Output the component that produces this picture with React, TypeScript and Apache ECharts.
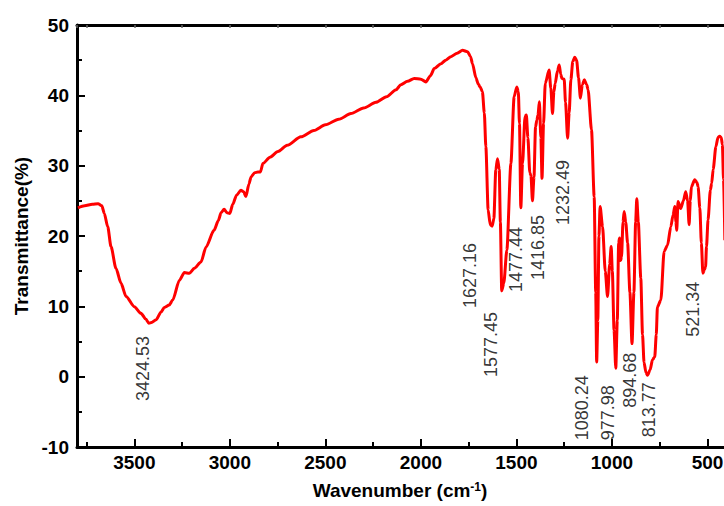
import React, { useEffect, useRef } from "react";
import * as echarts from "echarts";

// FTIR spectrum: wavenumber (cm-1) vs transmittance (%)
const wavenumbers = [
  3795, 3760, 3720, 3690, 3670, 3657, 3639, 3622, 3596, 3570, 3543, 3500, 3465, 3440, 3424, 3410, 3386, 3360,
  3343, 3317, 3299, 3264, 3238, 3212, 3186, 3151, 3125, 3083, 3060, 3046, 3030, 3015, 3000, 2985, 2965, 2942,
  2928, 2916, 2900, 2889, 2870, 2853, 2840, 2827, 2790, 2748, 2700, 2628, 2560, 2500, 2430, 2366, 2300, 2235,
  2180, 2130, 2105, 2070, 2035, 2000, 1974, 1950, 1930, 1895, 1870, 1843, 1810, 1782, 1756, 1740, 1730, 1712,
  1700, 1690, 1678, 1668, 1660, 1648, 1637, 1627, 1618, 1608, 1599, 1590, 1584, 1577, 1566, 1550, 1529, 1512,
  1498, 1490, 1484, 1477, 1468, 1455, 1448, 1440, 1430, 1424, 1416, 1408, 1400, 1393, 1387, 1380, 1372, 1366,
  1358, 1349, 1329, 1320, 1311, 1304, 1297, 1285, 1276, 1268, 1262, 1250, 1243, 1232, 1224, 1215, 1205, 1195,
  1185, 1175, 1165, 1155, 1145, 1132, 1125, 1107, 1093, 1085, 1080, 1074, 1068, 1062, 1049, 1035, 1023, 1012,
  1004, 998, 989, 980, 972, 965, 960, 955, 950, 942, 936, 928, 918, 906, 895, 885, 876, 870, 862, 849, 840, 832,
  822, 814, 800, 788, 776, 768, 762, 744, 727, 709, 692, 680, 671, 665, 661, 654, 640, 626, 614, 604, 596, 590,
  584, 567, 555, 549, 540, 532, 524, 516, 510, 505, 497, 485, 478, 470, 456, 445, 436, 428, 422, 416, 409,
];
const transmittance = [
  24.0, 24.3, 24.5, 24.6, 24.3, 23.2, 21.3, 18.5, 15.4, 13.3, 11.4, 9.95, 9.0, 8.2, 7.6, 7.7, 8.1, 9.2,
  9.85, 10.2, 10.9, 13.7, 14.8, 14.7, 15.4, 16.3, 18.4, 20.8, 22.2, 23.3, 23.8, 23.3, 23.2, 24.5, 25.8, 26.5,
  26.3, 25.6, 27.4, 28.4, 29.0, 29.1, 29.1, 30.3, 31.2, 32.0, 32.9, 34.1, 35.0, 35.8, 36.6, 37.4, 38.2, 39.0,
  39.8, 40.8, 41.5, 42.0, 42.4, 42.3, 41.9, 42.8, 43.8, 44.5, 45.0, 45.5, 46.0, 46.4, 46.2, 45.5, 44.5, 42.5,
  41.6, 41.2, 40.5, 37.5, 32.7, 23.7, 21.6, 21.4, 22.5, 29.4, 31.0, 29.5, 22.0, 12.2, 13.3, 18.0, 30.3, 39.8,
  41.2, 40.5, 36.0, 24.0, 30.3, 37.0, 37.2, 34.0, 29.0, 28.6, 25.0, 28.4, 35.5, 36.5, 37.2, 39.1, 34.0, 28.2,
  36.0, 41.7, 43.6, 41.0, 37.4, 40.5, 41.7, 43.5, 44.3, 43.0, 42.4, 42.3, 39.0, 33.9, 37.5, 42.2, 44.8, 45.4,
  45.0, 42.5, 39.6, 41.5, 42.2, 41.5, 40.8, 35.1, 25.6, 12.0, 2.1, 8.0, 20.0, 24.2, 21.3, 15.0, 11.4, 16.0,
  18.5, 15.0, 6.6, 1.2, 8.0, 19.0, 19.7, 16.5, 17.0, 22.0, 23.5, 22.0, 19.0, 12.0, 4.7, 12.0, 22.0, 25.3, 22.0, 14.0, 6.0, 2.0,
  0.6, 0.2, 1.0, 2.4, 2.8, 6.0, 9.9, 10.9, 17.8, 18.7, 21.3, 23.0, 24.2, 22.0, 20.8, 24.9, 23.9, 25.0, 26.3, 25.0, 21.6, 25.0,
  27.0, 28.0, 27.6, 27.0, 24.0, 19.0, 14.7, 15.2, 15.6, 18.5, 22.3, 26.5, 27.5, 29.5, 32.7, 34.0, 34.2, 34.0, 33.0, 28.0, 19.4,
];

// Peak annotations: text, and where the top end of each vertical label sits (data units)
const peakLabels = ["3424.53", "1627.16", "1577.45", "1477.44", "1416.85", "1232.49", "1080.24", "977.98", "894.68", "813.77", "521.34"];
const peakLabelX = [3454, 1744, 1634, 1503, 1388, 1257, 1158, 1022, 907, 807, 577];
const peakLabelTop = [5.8, 19.0, 9.2, 21.3, 23.0, 30.8, 0.2, -1.2, 3.4, -0.8, 13.5];

const xMin = 0;
const xMax = 3800;
const xMajorStep = 500;
const xMinorStep = 250;
const yMin = -10;
const yMax = 50;
const yStep = 10;

export default function App() {
  const ref = useRef<HTMLDivElement>(null);

  useEffect(() => {
    if (!ref.current) return;
    const chart = echarts.init(ref.current, null, { renderer: "svg" });
    const font = '"Liberation Sans", Arial, Helvetica, sans-serif';
    const lineData = wavenumbers.map((w, i) => [w, transmittance[i]]);
    const labelData = peakLabels.map((t, i) => ({ name: t, value: [peakLabelX[i], peakLabelTop[i]] }));

    chart.setOption({
      animation: false,
      backgroundColor: "#ffffff",
      // the plot runs on past the right edge of the visible frame (to 0 cm-1), as in the source figure
      grid: { left: 77, right: 7, top: 25, bottom: 59, containLabel: false },
      xAxis: [
        {
          type: "value",
          position: "bottom",
          inverse: true,
          min: xMin,
          max: xMax,
          interval: xMajorStep,
          axisLine: { show: true, onZero: false, lineStyle: { color: "#000", width: 3 } },
          axisTick: { show: true, inside: true, length: 8, lineStyle: { color: "#000", width: 2 } },
          axisLabel: {
            show: true,
            margin: 6,
            fontSize: 19,
            fontWeight: "bold",
            fontFamily: font,
            color: "#000",
            showMaxLabel: false,
            formatter: (v: number) => (v % xMajorStep === 0 && v > 0 ? String(v) : ""),
          },
          splitLine: { show: false },
          name: "{a|Wavenumber (cm}{s|-1}{a|)}",
          nameLocation: "middle",
          nameGap: 34,
          nameTextStyle: {
            padding: [0, 80, 0, 0],
            rich: {
              a: { fontSize: 19, fontWeight: "bold", fontFamily: font, color: "#000" },
              s: { fontSize: 12, fontWeight: "bold", fontFamily: font, color: "#000", verticalAlign: "top" },
            },
          },
        },
        {
          type: "value",
          position: "bottom",
          inverse: true,
          min: xMin,
          max: xMax,
          interval: xMinorStep,
          axisLine: { show: false, onZero: false },
          axisTick: { show: true, inside: true, length: 5, lineStyle: { color: "#000", width: 2 } },
          axisLabel: { show: false },
          splitLine: { show: false },
        },
        {
          type: "value",
          position: "top",
          inverse: true,
          min: xMin,
          max: xMax,
          interval: xMinorStep,
          axisLine: { show: true, onZero: false, lineStyle: { color: "#000", width: 3 } },
          axisTick: { show: true, inside: true, length: 3, lineStyle: { color: "#666", width: 1.5 } },
          axisLabel: { show: false },
          splitLine: { show: false },
        },
      ],
      yAxis: {
        type: "value",
        min: yMin,
        max: yMax,
        interval: yStep,
        axisLine: { show: true, onZero: false, lineStyle: { color: "#000", width: 3 } },
        axisTick: { show: true, inside: true, length: 8, lineStyle: { color: "#000", width: 2 } },
        minorTick: { show: true, splitNumber: 2, length: 5, lineStyle: { color: "#000", width: 2 } },
        axisLabel: { margin: 8, fontSize: 19, fontWeight: "bold", fontFamily: font, color: "#000" },
        splitLine: { show: false },
        minorSplitLine: { show: false },
        name: "Transmittance(%)",
        nameLocation: "middle",
        nameGap: 44,
        nameTextStyle: { fontSize: 19, fontWeight: "bold", fontFamily: font, color: "#000" },
      },
      series: [
        {
          type: "line",
          xAxisIndex: 0,
          yAxisIndex: 0,
          data: lineData,
          showSymbol: false,
          symbol: "none",
          smooth: 0.25,
          smoothMonotone: "x",
          lineStyle: { color: "#ff0000", width: 3 },
          z: 3,
        },
        {
          type: "scatter",
          xAxisIndex: 0,
          yAxisIndex: 0,
          data: labelData,
          symbolSize: 1,
          itemStyle: { color: "rgba(0,0,0,0)" },
          silent: true,
          label: {
            show: true,
            position: "inside",
            formatter: "{b}",
            rotate: 90,
            align: "right",
            verticalAlign: "middle",
            fontSize: 18,
            fontFamily: font,
            color: "#000",
          },
          z: 4,
        },
      ],
    });

    return () => chart.dispose();
  }, []);

  return (
    <div
      style={{ position: "fixed", left: 0, top: 0, width: 724, height: 506, overflow: "hidden", background: "#fff" }}
    >
      <div ref={ref} style={{ width: 810, height: 506 }} />
    </div>
  );
}
